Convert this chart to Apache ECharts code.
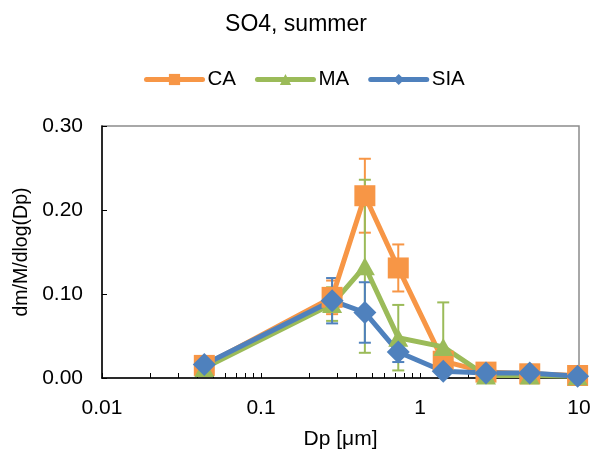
<!DOCTYPE html>
<html>
<head>
<meta charset="utf-8">
<script src="https://cdn.jsdelivr.net/npm/echarts@6/dist/echarts.min.js"></script>
<style>html,body{margin:0;padding:0;background:#fff}#c{width:592px;height:450px}</style>
</head>
<body>
<div id="c"></div>
<script>
// Data
const dp = [0.044, 0.28, 0.45, 0.73, 1.4, 2.6, 4.9, 9.8];
const caVals = [0.015, 0.096, 0.217, 0.131, 0.020, 0.007, 0.005, 0.003];
const caErr  = [0.000, 0.020, 0.044, 0.028, 0.003, 0.001, 0.001, 0.001];
const maVals = [0.012, 0.088, 0.133, 0.048, 0.037, 0.003, 0.003, 0.002];
const maErr  = [0.000, 0.020, 0.103, 0.039, 0.053, 0.000, 0.000, 0.000];
const siaVals = [0.016, 0.092, 0.078, 0.031, 0.008, 0.006, 0.006, 0.002];
const siaErr  = [0.000, 0.027, 0.036, 0.012, 0.002, 0.000, 0.000, 0.000];
const seriesNames = ['CA', 'MA', 'SIA'];
const xTickValues = [0.01,0.02,0.03,0.04,0.05,0.06,0.07,0.08,0.09,0.1,0.2,0.3,0.4,0.5,0.6,0.7,0.8,0.9,1,2,3,4,5,6,7,8,9,10];

const colors = ['#F79646', '#9BBB59', '#4F81BD'];
const FONT = 'Liberation Sans, Arial, sans-serif';

function pts(vals){ return dp.map((x,i)=>[x, vals[i]]); }
function errData(vals, err){ return dp.map((x,i)=>[x, vals[i]-err[i], vals[i]+err[i]]); }
function errSeries(vals, err, color){
  return {
    type: 'custom',
    data: errData(vals, err),
    encode: {x: 0, y: [1, 2]},
    silent: true,
    clip: true,
    renderItem: function(params, api){
      const x = api.value(0), lo = api.value(1), hi = api.value(2);
      if (hi - lo <= 0) return null;
      const a = api.coord([x, hi]), b = api.coord([x, lo]);
      const hw = 6;
      const st = {stroke: color, lineWidth: 2};
      return {type: 'group', children: [
        {type: 'line', shape: {x1: a[0], y1: a[1], x2: b[0], y2: b[1]}, style: st},
        {type: 'line', shape: {x1: a[0]-hw, y1: a[1], x2: a[0]+hw, y2: a[1]}, style: st},
        {type: 'line', shape: {x1: b[0]-hw, y1: b[1], x2: b[0]+hw, y2: b[1]}, style: st}
      ]};
    }
  };
}
function lineSeries(name, vals, color, symbol, size){
  return {
    name: name, type: 'line', data: pts(vals),
    symbol: symbol, symbolSize: size,
    lineStyle: {color: color, width: 5},
    itemStyle: {color: color},
    emphasis: {disabled: true}
  };
}

const chart = echarts.init(document.getElementById('c'), null, {renderer: 'canvas'});
chart.setOption({
  animation: false,
  backgroundColor: '#fff',
  title: {
    text: 'SO4, summer', left: 'center', top: 8,
    textStyle: {fontFamily: FONT, fontSize: 23, fontWeight: 'normal', color: '#000'}
  },
  legend: {
    data: seriesNames, left: 139, top: 64,
    itemWidth: 56, itemHeight: 14, itemGap: 19,
    lineStyle: {width: 5, cap: 'round'},
    textStyle: {fontFamily: FONT, fontSize: 20.5, color: '#000'}
  },
  grid: {
    left: 102, right: 13, top: 126, bottom: 72,
    containLabel: false, outerBoundsMode: 'none',
    show: true, borderColor: '#8c8c8c', borderWidth: 1.5, backgroundColor: 'transparent'
  },
  xAxis: {
    type: 'log', logBase: 10, min: 0.01, max: 10,
    name: 'Dp [μm]', nameLocation: 'middle', nameGap: 51,
    nameTextStyle: {fontFamily: FONT, fontSize: 21, color: '#000'},
    axisLine: {lineStyle: {color: '#000', width: 1.5}},
    axisTick: {inside: true, length: 5, lineStyle: {color: '#000'}, customValues: xTickValues},
    axisLabel: {fontFamily: FONT, fontSize: 21, color: '#000', margin: 20},
    splitLine: {show: false}
  },
  yAxis: {
    type: 'value', min: 0, max: 0.3, interval: 0.1,
    name: 'dm/M/dlog(Dp)', nameLocation: 'middle', nameGap: 67,
    nameTextStyle: {fontFamily: FONT, fontSize: 19.5, color: '#000'},
    axisLine: {show: true, lineStyle: {color: '#000', width: 1.5}},
    axisTick: {show: true, inside: true, length: 5, lineStyle: {color: '#000'}},
    axisLabel: {fontFamily: FONT, fontSize: 21, color: '#000', margin: 19,
      formatter: v => v.toFixed(2)},
    splitLine: {show: false}
  },
  series: [
    errSeries(caVals, caErr, colors[0]),
    lineSeries('CA', caVals, colors[0], 'rect', 21),
    errSeries(maVals, maErr, colors[1]),
    lineSeries('MA', maVals, colors[1], 'triangle', [20, 18]),
    errSeries(siaVals, siaErr, colors[2]),
    lineSeries('SIA', siaVals, colors[2], 'diamond', 23)
  ]
});
</script>
</body>
</html>
